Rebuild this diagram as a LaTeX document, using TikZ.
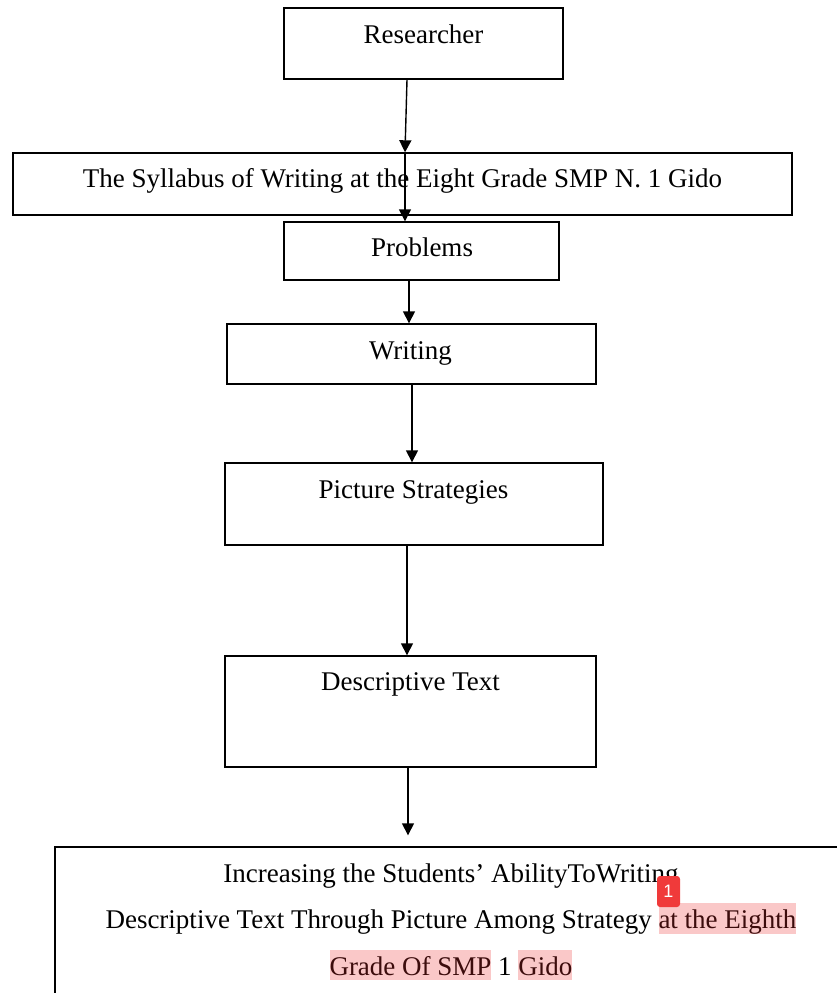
\documentclass[tikz,border=0pt]{standalone}
\usepackage{fontspec}
\setmainfont{Liberation Serif}
\newfontfamily\badgefont{Liberation Sans}
\usetikzlibrary{arrows.meta}
\definecolor{hlpink}{RGB}{250,200,200}
\definecolor{badgered}{RGB}{240,58,58}
\definecolor{hltext}{RGB}{60,12,12}
\newcommand\hlword[1]{{\setlength{\fboxsep}{0pt}\colorbox{hlpink}{\rule[-2.5pt]{0pt}{15pt}\color{hltext}#1}}}
\begin{document}
\begin{tikzpicture}[x=0.5pt,y=-0.5pt,
  box/.style={draw, line width=0.7pt, inner sep=0pt, rectangle},
  lbl/.style={font=\fontsize{13.5pt}{16pt}\selectfont, inner sep=0pt, anchor=base},
  arr/.style={-{Triangle[length=6pt,width=6pt]}, line width=0.7pt}]
\useasboundingbox (0,0) rectangle (837,993);
\clip (0,0) rectangle (837,993);

% boxes
\node[box, minimum width=139.5pt, minimum height=35.5pt] (r) at (423.5,43.5) {};
\node[box, minimum width=389.5pt, minimum height=31pt] (s) at (402.5,184) {};
\node[box, minimum width=137.5pt, minimum height=29pt] (p) at (421.5,251) {};
\node[box, minimum width=184.5pt, minimum height=30pt] (w) at (411.5,354) {};
\node[box, minimum width=189pt, minimum height=41pt] (ps) at (414,504) {};
\node[box, minimum width=185.5pt, minimum height=55.5pt] (d) at (410.5,711.5) {};
\node[box, minimum width=396pt, minimum height=96.5pt] (f) at (451,943.5) {};

% labels
\node[lbl] (rt) at (423.5,43) {Researcher};
\node[lbl] (st) at (402.5,187) {The Syllabus of Writing at the Eight Grade SMP N. 1 Gido};
\node[lbl] (pt) at (422,256) {Problems};
\node[lbl] (wt) at (410.5,359) {Writing};
\node[lbl] (pst) at (413.5,498) {Picture Strategies};
\node[lbl] (dt) at (410.5,690) {Descriptive Text};
\node[lbl] (f1) at (451,882) {Increasing the Students’ AbilityToWriting};
\node[lbl] (f2) at (451,928) {Descriptive Text Through Picture Among Strategy \hlword{at the Eighth}};
\node[lbl] (f3) at (451,975) {\hlword{Grade Of SMP} 1 \hlword{Gido}};

% comment badge
\node[fill=badgered, rounded corners=1.5pt, minimum width=11.5pt, minimum height=15.5pt,
      inner sep=0pt, text=white, font=\badgefont\fontsize{9pt}{10pt}\selectfont] (bd) at (668.5,891.5) {1};

% connectors
\draw[arr] ([xshift=-8.25pt]r.south) -- ([xshift=1.25pt]s.north);
\draw[arr] ([xshift=1.25pt]s.north) -- ([xshift=-8.25pt]p.north);
\draw[arr] ([xshift=-6.25pt]p.south) -- ([xshift=-1.25pt]w.north);
\draw[arr] ([xshift=0.25pt]w.south) -- ([xshift=-1pt]ps.north);
\draw[arr] ([xshift=-3.5pt]ps.south) -- ([xshift=-1.75pt]d.north);
\draw[arr, shorten >=5.5pt] ([xshift=-1.25pt]d.south) -- ([xshift=-21.5pt]f.north);
\end{tikzpicture}
\end{document}
